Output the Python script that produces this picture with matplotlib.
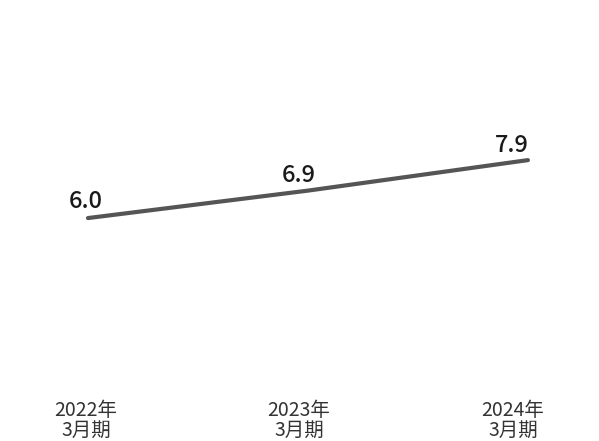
import matplotlib
matplotlib.use("Agg")
import matplotlib.pyplot as plt
import matplotlib.transforms as mtransforms

plt.rcParams['font.family'] = ['Noto Sans CJK JP', 'DejaVu Sans']

# données
periods = ["2022年\n3月期", "2023年\n3月期", "2024年\n3月期"]
values = [6.0, 6.9, 7.9]
value_labels = ["6.0", "6.9", "7.9"]

fig = plt.figure(figsize=(5.99, 4.41), dpi=100)
ax = fig.add_axes([0, 0, 1, 1])
ax.set_xlim(-0.4, 2.323)
ax.set_ylim(-1.31, 13.15)
ax.axis("off")

x = list(range(len(values)))
ax.plot(x, values, color="#555555", linewidth=3, solid_capstyle="round")

# étiquettes de valeurs
label_shift = [-2, -9, -16]
label_gap = [4, 2.5, 2.5]
for i, (v, lab) in enumerate(zip(values, value_labels)):
    ax.annotate(lab, (i, v), xytext=(label_shift[i] * 0.72, label_gap[i]), textcoords="offset points",
                ha="center", va="bottom", fontsize=17, fontweight="medium", color="#1a1a1a")

# étiquettes de l'axe x
tick_shift = [-2, -9, -15]
trans = mtransforms.blended_transform_factory(ax.transData, ax.transAxes)
for i, p in enumerate(periods):
    off = mtransforms.offset_copy(trans, fig=fig, x=tick_shift[i] * 0.72, y=0, units="points")
    ax.text(i, 0.047, p, transform=off, ha="center", va="center", fontsize=14,
            color="#333333", linespacing=0.95)

fig.savefig("out.png", dpi=100)
